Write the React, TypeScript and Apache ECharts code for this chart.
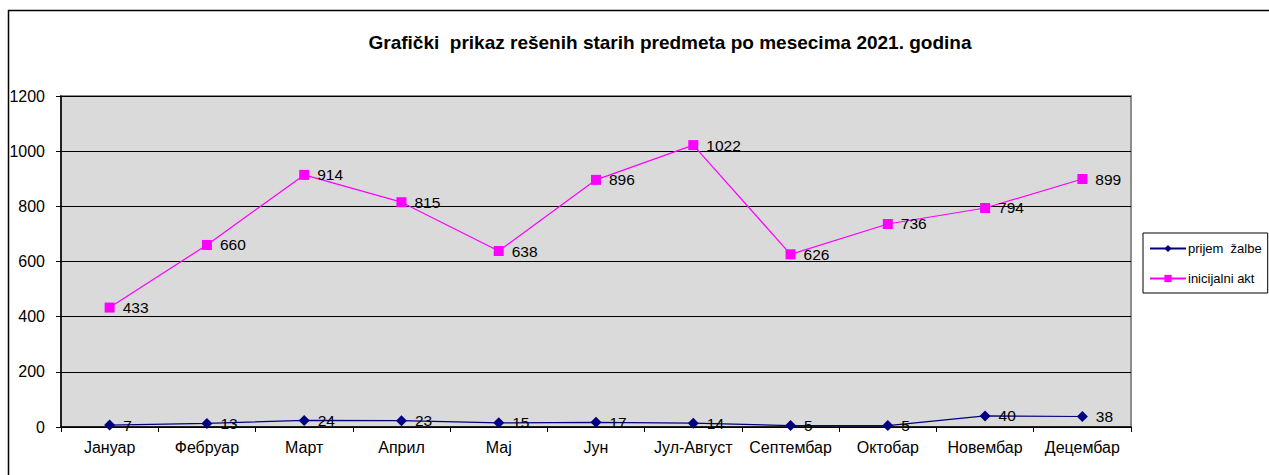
import React, { useEffect, useRef } from "react";
import * as echarts from "echarts";

const categories = ["Јануар", "Фебруар", "Март", "Април", "Мај", "Јун", "Јул-Август", "Септембар", "Октобар", "Новембар", "Децембар"];
const prijemZalbe = [7, 13, 24, 23, 15, 17, 14, 5, 5, 40, 38];
const inicijalniAkt = [433, 660, 914, 815, 638, 896, 1022, 626, 736, 794, 899];
const titleText = "Grafički  prikaz rešenih starih predmeta po mesecima 2021. godina";

const FONT = "'Liberation Sans', Arial, sans-serif";

export default function App() {
  const ref = useRef<HTMLDivElement>(null);
  useEffect(() => {
    const chart = echarts.init(ref.current!, undefined, { renderer: "svg" });
    chart.setOption({
      animation: false,
      backgroundColor: "#ffffff",
      textStyle: { fontFamily: FONT },
      title: {
        text: titleText,
        left: 665,
        textAlign: "center",
        top: 28,
        textStyle: { fontFamily: FONT, fontSize: 19, fontWeight: "bold", color: "#000" },
      },
      graphic: [
        {
          type: "rect",
          shape: { x: 8.5, y: 10.5, width: 1300, height: 500 },
          style: { fill: "none", stroke: "#000", lineWidth: 1.5 },
          silent: true,
          z: 100,
        },
      ],
      legend: {
        orient: "vertical",
        left: 1143,
        top: 233,
        width: 100,
        padding: [9, 6, 8, 6],
        itemGap: 17,
        itemWidth: 36,
        itemHeight: 9,
        borderColor: "#000",
        borderWidth: 1,
        backgroundColor: "#fff",
        textStyle: { fontFamily: FONT, fontSize: 13, color: "#000", padding: [0, 0, 0, -3] },
        data: ["prijem  žalbe", "inicijalni akt"],
      },
      grid: {
        left: 61,
        right: 138,
        top: 96,
        bottom: 48,
        show: true,
        backgroundColor: "#DADADA",
        borderColor: "#8c8c8c",
        borderWidth: 2,
      },
      xAxis: {
        type: "category",
        data: categories,
        boundaryGap: true,
        axisLine: { lineStyle: { color: "#000", width: 1.5 } },
        axisTick: { show: true, length: 5, lineStyle: { color: "#000" } },
        axisLabel: { fontFamily: FONT, fontSize: 16, color: "#000", margin: 12, interval: 0 },
      },
      yAxis: {
        type: "value",
        min: 0,
        max: 1200,
        interval: 200,
        axisLine: { show: true, lineStyle: { color: "#000", width: 1.5 } },
        axisTick: { show: true, length: 5, lineStyle: { color: "#000" } },
        axisLabel: { fontFamily: FONT, fontSize: 16, color: "#000", margin: 16, formatter: (v: number) => String(v) },
        splitLine: { show: true, lineStyle: { color: "#000", width: 1 } },
      },
      series: [
        {
          name: "prijem  žalbe",
          type: "line",
          data: prijemZalbe,
          symbol: "diamond",
          symbolSize: 11,
          color: "#000080",
          lineStyle: { color: "#000080", width: 1.2 },
          itemStyle: { color: "#000080" },
          label: { show: true, position: "right", distance: 8, fontFamily: FONT, fontSize: 15.5, color: "#000" },
          z: 3,
        },
        {
          name: "inicijalni akt",
          type: "line",
          data: inicijalniAkt,
          symbol: "rect",
          symbolSize: 10,
          color: "#FF00FF",
          lineStyle: { color: "#FF00FF", width: 1.2 },
          itemStyle: { color: "#FF00FF" },
          label: { show: true, position: "right", distance: 8, fontFamily: FONT, fontSize: 15.5, color: "#000" },
          z: 3,
        },
      ],
    });
    return () => chart.dispose();
  }, []);
  return <div ref={ref} style={{ position: "fixed", left: 0, top: 0, width: 1269, height: 475 }} />;
}
